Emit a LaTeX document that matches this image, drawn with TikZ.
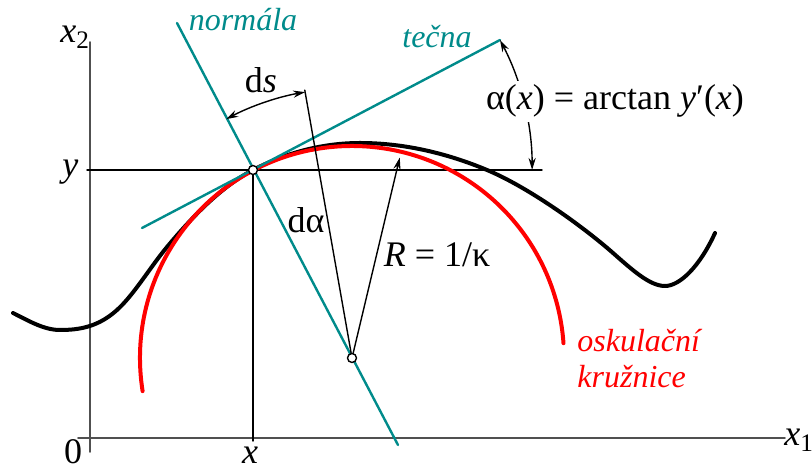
\documentclass[tikz,border=0pt]{standalone}
\usepackage{fontspec}
\IfFontExistsTF{LiberationSerif-Regular.ttf}
	{\setmainfont{LiberationSerif}[Extension=.ttf,UprightFont=*-Regular,ItalicFont=*-Italic,BoldFont=*-Bold,BoldItalicFont=*-BoldItalic]}
	{\setmainfont{Liberation Serif}}
\usetikzlibrary{arrows.meta,calc}
\definecolor{tealline}{RGB}{0,139,139}
\definecolor{axisgray}{RGB}{80,80,80}
\begin{document}
\begin{tikzpicture}[x=0.5pt,y=0.5pt,font=\rmfamily\fontsize{18}{21}\selectfont,line join=round,line cap=round,>={Stealth[length=6pt,width=3.6pt]},
	axis/.style={axisgray,line width=0.9pt},
	thinline/.style={line width=0.7pt},
	tealstroke/.style={tealline,line width=1.2pt},
	mathtext/.style={inner sep=0pt,anchor=base},
	nametext/.style={font=\rmfamily\fontsize{16}{19}\selectfont\itshape,inner sep=0pt,anchor=base},
	dot/.style={circle,draw,fill=white,line width=0.7pt,minimum size=4.5pt,inner sep=0pt}]
	\useasboundingbox (0,0) rectangle (812,470);
	\coordinate (P) at (253,300);
	\coordinate (C) at (352,112);
	\coordinate (T1) at (142,242);
	\coordinate (T2) at (500,430);
	\coordinate (N1) at (177,447);
	\coordinate (N2) at (398,25);
	\coordinate (D) at ($(C)+(100:272)$);
	
	\draw[axis] (78,32) -- (785,32);
	\draw[axis] (90,18) -- (90,428);
	\draw[thinline] (87,300) -- (542,300);
	\draw[thinline] (253,29) -- (P);
	
	\draw[line width=2pt] (13,157) .. controls (29,149) and (44,140) .. (60,140)
		.. controls (79,140) and (98,142.9) .. (117,160)
		.. controls (134,175.3) and (150,202.6) .. (167,223)
		.. controls (196,257.8) and (224,284.8) .. (P)
		.. controls (288,318.4) and (325,327) .. (360,327)
		.. controls (402,327) and (445,317.6) .. (487,300)
		.. controls (529,282.4) and (583,243.4) .. (613,217)
		.. controls (633,199.4) and (650,184) .. (665,184)
		.. controls (680,184) and (700,204) .. (715,237);
	\draw[red,line width=2pt] ($(C)+(189:212)$) arc[start angle=189,end angle=4,radius=212];
	
	\draw[tealstroke] (T1) -- (T2);
	\draw[tealstroke] (N1) -- (N2);
	
	\draw[thinline] (C) -- (D);
	\draw[thinline,->] (C) -- ($(C)+(76.6:206)$);
	\draw[thinline,<->] ($(C)+(117.8:270)$) arc[start angle=117.8,end angle=100,radius=270];
	\draw[thinline,<->] (T2) arc[start angle=27.76,end angle=0,radius=279];
	
	\node[dot] (Pdot) at (P) {};
	\node[dot] (Cdot) at (C) {};
	
	\node[fill=white,inner sep=2pt,anchor=base] (alpha) at (615,360) {α(\textit{x}) = arctan \textit{y}′(\textit{x})};
	\node[mathtext] (ds) at (261,377) {d\textit{s}};
	\node[mathtext] (dalpha) at (306,237) {dα};
	\node[mathtext] (radius) at (437,203) {\textit{R} = 1/κ};
	\node[nametext,tealline] (normal) at (243,439) {normála};
	\node[nametext,tealline] (tangent) at (437,422) {tečna};
	\node[nametext,red,anchor=base west] (osc1) at (577,118) {oskulační};
	\node[nametext,red,anchor=base west] (osc2) at (577,82) {kružnice};
	
	\node[mathtext,anchor=base west] (lx2) at (60,427) {\textit{x}\textsubscript{2}};
	\node[mathtext,anchor=base west] (lx1) at (784,24) {\textit{x}\textsubscript{1}};
	\node[mathtext] (lzero) at (73,6) {0};
	\node[mathtext] (lx) at (250,6) {\textit{x}};
	\node[mathtext,anchor=base west] (ly) at (62,293) {\textit{y}};
\end{tikzpicture}
\end{document}
